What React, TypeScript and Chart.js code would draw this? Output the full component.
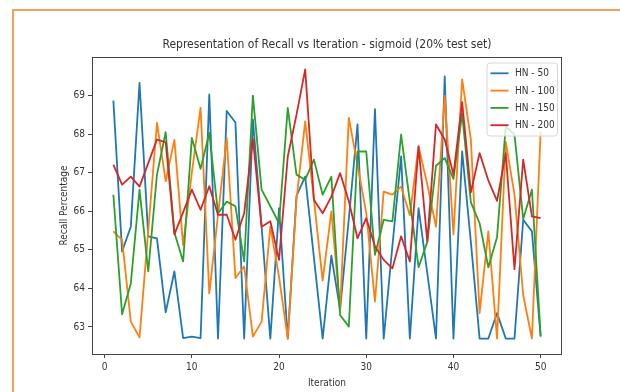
import React, { useEffect, useRef } from 'react';
import { Chart, registerables } from 'chart.js';

Chart.register(...registerables);

const iterations = [
  1, 2, 3, 4, 5, 6, 7, 8, 9, 10, 11, 12, 13, 14, 15, 16, 17, 18, 19, 20, 21, 22, 23, 24, 25,
  26, 27, 28, 29, 30, 31, 32, 33, 34, 35, 36, 37, 38, 39, 40, 41, 42, 43, 44, 45, 46, 47, 48, 49, 50,
];

const hn50 = [
  68.87, 64.96, 65.6, 69.33, 65.35, 65.3, 63.38, 64.44, 62.71, 62.75,
  62.71, 69.03, 62.7, 68.6, 68.3, 62.7, 68.38, 65.6, 62.7, 66.08,
  62.7, 66.4, 66.9, 64.8, 62.7, 64.85, 63.45, 65.8, 68.25, 62.7,
  68.65, 62.7, 65.1, 67.42, 62.7, 66.08, 64.4, 62.7, 69.5, 62.7,
  67.55, 65.2, 62.7, 62.7, 63.36, 62.7, 62.7, 65.78, 65.48, 62.75,
];

const hn100 = [
  65.48, 65.26, 63.14, 62.73, 65.5, 68.29, 66.78, 67.85, 65.12, 67.0,
  68.68, 63.87, 65.9, 67.9, 64.27, 64.57, 62.75, 63.14, 65.6, 64.3,
  62.7, 66.3, 68.33, 66.3, 64.2, 66.0, 63.44, 68.42, 67.2, 65.96,
  63.66, 66.51, 66.43, 66.64, 65.9, 67.68, 66.7, 65.6, 69.0, 65.4,
  69.42, 67.86, 63.36, 65.48, 62.7, 67.8, 66.43, 63.83, 62.7, 68.07,
];

const hn150 = [
  66.43, 63.33, 64.13, 66.56, 64.44, 66.95, 68.05, 65.45, 64.7, 67.9,
  67.1, 68.03, 65.95, 66.25, 66.13, 64.7, 69.0, 66.56, 66.13, 65.69,
  68.68, 66.95, 66.82, 67.34, 66.43, 66.9, 63.31, 63.01, 67.55, 67.55,
  64.87, 65.78, 65.74, 67.99, 66.25, 64.55, 65.2, 67.18, 67.38, 66.84,
  68.53, 66.23, 65.69, 64.55, 65.33, 68.2, 67.99, 65.8, 66.56, 62.77,
];

const hn200 = [
  67.21, 66.69, 66.9, 66.64, 67.25, 67.86, 67.79, 65.4, 65.97, 66.56,
  66.04, 66.65, 65.91, 65.91, 65.26, 65.95, 67.88, 65.6, 65.74, 64.74,
  67.42, 68.5, 69.68, 66.3, 65.95, 66.38, 66.99, 66.26, 65.3, 65.82,
  65.09, 64.74, 64.52, 65.35, 64.7, 67.68, 65.22, 68.25, 67.86, 66.95,
  68.83, 66.49, 67.51, 66.8, 66.27, 67.51, 64.5, 67.34, 65.87, 65.82,
];

const seriesLabels = ['HN - 50', 'HN - 100', 'HN - 150', 'HN - 200'];
const seriesValues = [hn50, hn100, hn150, hn200];
const seriesColors = ['#1f77b4', '#ff7f0e', '#2ca02c', '#d62728'];

const xTicks = [0, 10, 20, 30, 40, 50];
const yTicks = [63, 64, 65, 66, 67, 68, 69];

const titleText = 'Representation of Recall vs Iteration - sigmoid (20% test set)';
const xLabel = 'Iteration';
const yLabel = 'Recall Percentage';

const FONT = '"DejaVu Sans Condensed", "DejaVu Sans", sans-serif';
const TEXT = '#333333';
const AXIS = '#444444';

const decorPlugin = {
  id: 'decor',
  afterDraw(chart: any) {
    const { ctx, chartArea: a } = chart;
    ctx.save();
    // spines
    ctx.strokeStyle = AXIS;
    ctx.lineWidth = 1;
    ctx.strokeRect(Math.round(a.left) + 0.5, Math.round(a.top) + 0.5, Math.round(a.right - a.left) - 1, Math.round(a.bottom - a.top));
    // title
    ctx.fillStyle = TEXT;
    ctx.font = `12px ${FONT}`;
    ctx.textAlign = 'center';
    ctx.textBaseline = 'middle';
    ctx.fillText(titleText, (a.left + a.right) / 2, a.top - 12);
    // legend
    const bw = 70.5;
    const bh = 73;
    const bx = a.right - 4.5 - bw;
    const by = a.top + 6;
    ctx.beginPath();
    if ((ctx as any).roundRect) (ctx as any).roundRect(bx, by, bw, bh, 3);
    else ctx.rect(bx, by, bw, bh);
    ctx.fillStyle = 'rgba(255,255,255,0.8)';
    ctx.fill();
    ctx.strokeStyle = '#d6d6d6';
    ctx.lineWidth = 1;
    ctx.stroke();
    ctx.font = `10px ${FONT}`;
    ctx.textAlign = 'left';
    seriesLabels.forEach((lab, i) => {
      const cy = by + 10.3 + i * 17.3;
      ctx.strokeStyle = seriesColors[i];
      ctx.lineWidth = 1.8;
      ctx.beginPath();
      ctx.moveTo(bx + 3.5, cy);
      ctx.lineTo(bx + 21.5, cy);
      ctx.stroke();
      ctx.fillStyle = TEXT;
      ctx.fillText(lab, bx + 28, cy + 0.5);
    });
    ctx.restore();
  },
};

export default function App() {
  const ref = useRef<HTMLCanvasElement | null>(null);

  useEffect(() => {
    if (!ref.current) return;
    const datasets = seriesLabels.map((label, k) => ({
      label,
      data: iterations.map((x, i) => ({ x, y: seriesValues[k][i] })),
      borderColor: seriesColors[k],
      backgroundColor: seriesColors[k],
      borderWidth: 1.8,
      pointRadius: 0,
      tension: 0,
      fill: false,
      borderJoinStyle: 'round' as const,
      order: 4 - k,
    }));
    const chart = new Chart(ref.current, {
      type: 'line',
      data: { datasets },
      plugins: [decorPlugin],
      options: {
        animation: false,
        responsive: false,
        devicePixelRatio: 1,
        layout: { padding: { top: 57, right: 58, left: 0, bottom: 0 } },
        plugins: {
          legend: { display: false },
          title: { display: false },
          tooltip: { enabled: false },
        },
        scales: {
          x: {
            type: 'linear',
            min: -1.45,
            max: 52.45,
            afterBuildTicks: (s: any) => {
              s.ticks = xTicks.map((v) => ({ value: v }));
            },
            afterFit: (s: any) => {
              s.height = 38;
            },
            grid: { drawOnChartArea: false, drawTicks: true, tickLength: 4, color: AXIS },
            border: { display: false },
            ticks: {
              autoSkip: false,
              maxRotation: 0,
              padding: 3,
              color: TEXT,
              font: { family: FONT, size: 10 },
            },
            title: {
              display: true,
              text: xLabel,
              color: TEXT,
              font: { family: FONT, size: 10 },
              padding: { top: 0, bottom: 3 },
            },
          },
          y: {
            type: 'linear',
            min: 62.3,
            max: 70.0,
            afterBuildTicks: (s: any) => {
              s.ticks = yTicks.map((v) => ({ value: v }));
            },
            afterFit: (s: any) => {
              s.width = 92;
            },
            grid: { drawOnChartArea: false, drawTicks: true, tickLength: 4, color: AXIS },
            border: { display: false },
            ticks: {
              padding: 3,
              color: TEXT,
              font: { family: FONT, size: 10 },
            },
            title: {
              display: true,
              text: yLabel,
              color: TEXT,
              font: { family: FONT, size: 10 },
              padding: { top: 58, bottom: 0 },
            },
          },
        },
      },
    });
    return () => chart.destroy();
  }, []);

  return (
    <div
      style={{
        position: 'fixed',
        left: 0,
        top: 0,
        width: 620,
        height: 392,
        background: '#ffffff',
        overflow: 'hidden',
      }}
    >
      <div
        style={{
          position: 'absolute',
          left: 12,
          top: 9,
          width: 700,
          height: 500,
          borderLeft: '2px solid #f5a05a',
          borderTop: '2px solid #f5a05a',
        }}
      />
      <canvas
        ref={ref}
        width={620}
        height={392}
        style={{ position: 'absolute', left: 0, top: 0, width: 620, height: 392 }}
      />
    </div>
  );
}
